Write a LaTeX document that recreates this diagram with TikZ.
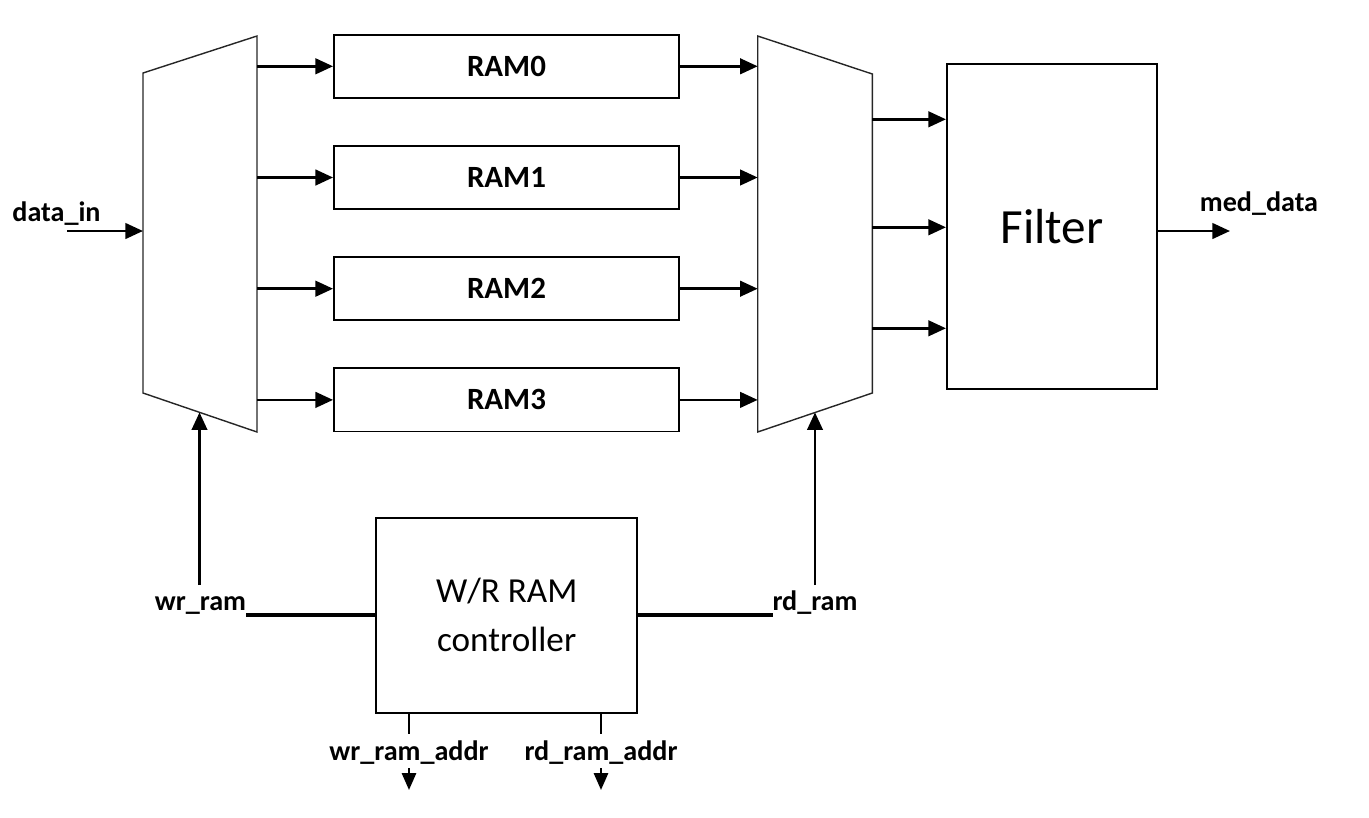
\documentclass[tikz,border=0pt]{standalone}
\usepackage{fontspec}
\setmainfont{Carlito}
\usetikzlibrary{arrows.meta,positioning}

\begin{document}
\begin{tikzpicture}[x=0.025cm,y=-0.025cm,
    ram/.style={draw,line width=1.4pt,minimum width=8.62cm,minimum height=1.58cm,
        font=\fontsize{22}{26}\selectfont\bfseries},
    sig/.style={line width=1.9pt,-{Triangle[length=12.5pt,width=11pt]}},
    addr/.style={line width=1.8pt,-{Triangle[length=12pt,width=10pt]}},
    wire/.style={line width=2.6pt},
    lbl/.style={font=\fontsize{20}{24}\selectfont\bfseries,anchor=base,inner sep=0pt},
    mux/.style={draw=black!85,line width=1pt}]
    \useasboundingbox (0,0) rectangle (1369,817);
    %\draw[very thin,color=gray] (0,0) grid[step=50] (1369,817);
    % write and read mux
    \draw[mux] (143,73) -- (257,36) -- (257,432) -- (143,393) -- cycle;
    \draw[mux] (757.7,36) -- (872.3,74) -- (872.3,393) -- (757.7,432) -- cycle;
    \coordinate (wmuxin) at (143,0);
    \coordinate (wmux) at (257,0);
    \coordinate (rmux) at (757.7,0);
    \coordinate (rmuxout) at (872.3,0);
    \coordinate (wsel) at (199.5,412.4);
    \coordinate (rsel) at (815,412.4);

    \node[ram] (ram0) at (506.5,66.3) {RAM0};
    \node[ram,below=1.15cm of ram0] (ram1) {RAM1};
    \node[ram,below=1.15cm of ram1] (ram2) {RAM2};
    \node[ram,below=1.15cm of ram2] (ram3) {RAM3};
    \foreach \i in {0,...,3} {
        \draw[sig] (wmux |- ram\i) -- (ram\i);
        \draw[sig] (ram\i) -- (rmux |- ram\i);
    }

    \node[draw,line width=1.4pt,minimum width=5.25cm,minimum height=8.12cm,
        font=\fontsize{35}{40}\selectfont] (filter) at (1052,226.8) {Filter};
    \foreach \y in {119.3,227.3,328.3}
        \draw[sig] (rmuxout |- 0,\y) -- (filter.west |- 0,\y);

    \coordinate (din) at (67,231);
    \draw[sig] (din) -- (din -| wmuxin);
    \node[lbl] (dinlbl) at (56.5,221) {data\_in};
    \coordinate (dout) at (1230,231);
    \draw[sig] (filter.east |- dout) -- (dout);
    \node[lbl] (doutlbl) at (1259,211.7) {med\_data};

    \node[draw,line width=1.4pt,minimum width=6.52cm,minimum height=4.88cm,align=center,
        font=\fontsize{25}{35}\selectfont] (ctrl) at (506.7,615.2) {W/R RAM\\controller};
    \node[lbl] (wrlbl) at (200.5,610) {wr\_ram};
    \node[lbl] (rdlbl) at (815,610) {rd\_ram};
    \draw[wire] (ctrl.west) -- (246,615.2);
    \draw[wire] (ctrl.east) -- (772.6,615.2);
    \draw[sig] (wsel |- 0,585) -- (wsel);
    \draw[sig] (rsel |- 0,585) -- (rsel);

    \node[lbl] (wralbl) at (409,760) {wr\_ram\_addr};
    \node[lbl] (rdalbl) at (601,760) {rd\_ram\_addr};
    \draw[line width=1.8pt] (ctrl.south -| wralbl) -- (409,734);
    \draw[line width=1.8pt] (ctrl.south -| rdalbl) -- (601,734);
    \draw[addr] (409,768) -- (409,790);
    \draw[addr] (601,768) -- (601,790);
\end{tikzpicture}
\end{document}
